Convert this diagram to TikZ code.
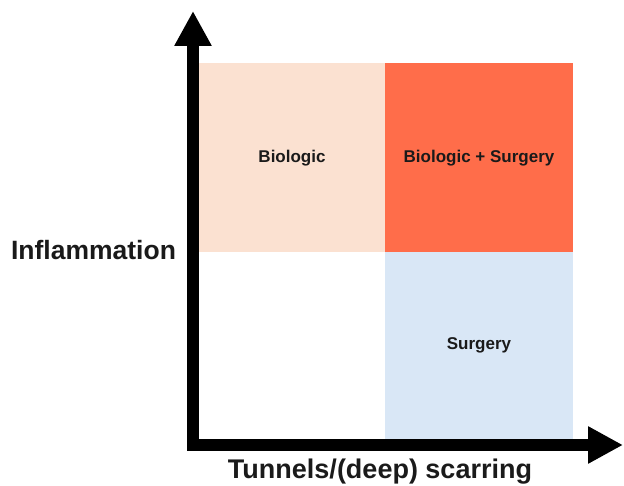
\documentclass[tikz,border=0pt]{standalone}
\usepackage{fontspec}
\setmainfont{Liberation Sans}
\usetikzlibrary{arrows.meta}
\definecolor{peach}{HTML}{FBE1D1}
\definecolor{hot}{HTML}{FF6D4A}
\definecolor{pale}{HTML}{D9E7F6}
\definecolor{ink}{HTML}{1A1A1A}
\begin{document}
\begin{tikzpicture}[x=1pt,y=-1pt,
  cell/.style={draw=none,inner sep=0pt,anchor=north west,text=ink,
    font=\fontsize{17}{20}\selectfont\bfseries,align=center},
  axislabel/.style={text=ink,inner sep=0pt,font=\fontsize{26.5}{30}\selectfont\bfseries},
  axis/.style={line width=12pt,line join=miter,
    {Triangle[length=35pt,width=35pt]}-{Triangle[length=35pt,width=35pt]}}]
\useasboundingbox (0,0) rectangle (624,486);
\node[cell,fill=peach,minimum width=186pt,minimum height=189pt] (bio) at (199,63) {};
\node[cell,fill=hot,minimum width=188pt,minimum height=189pt] (both) at (385,63) {};
\node[cell,fill=pale,minimum width=188pt,minimum height=187pt] (surg) at (385,252) {};
\node[cell,anchor=center] (tbio) at (292,158) {Biologic};
\node[cell,anchor=center] (tboth) at (479,158) {Biologic + Surgery};
\node[cell,anchor=center] (tsurg) at (479,345) {Surgery};
\coordinate (ytip) at (193,11);
\coordinate (orig) at (193,445);
\coordinate (xtip) at (623,445);
\draw[axis] (ytip) -- (orig) -- (xtip);
\node[axislabel] (ylab) at (93.5,250) {Inflammation};
\node[axislabel,font=\fontsize{27}{30}\selectfont\bfseries] (xlab) at (380,472) {Tunnels/(deep) scarring};
\end{tikzpicture}
\end{document}
